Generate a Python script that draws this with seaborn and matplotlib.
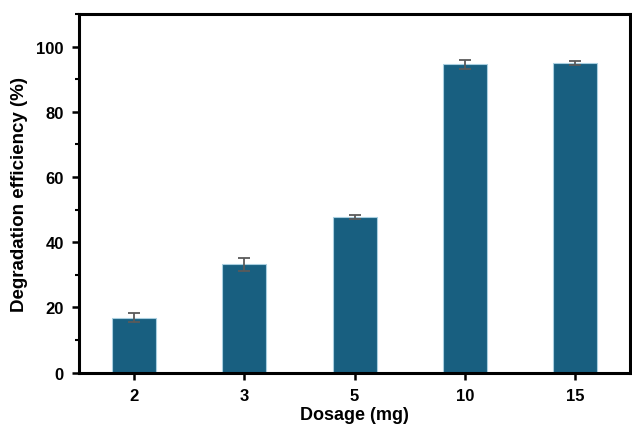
import matplotlib
matplotlib.use("Agg")
import matplotlib.pyplot as plt
import seaborn as sns
import pandas as pd
import numpy as np
from matplotlib.ticker import MultipleLocator

dosage = ["2", "3", "5", "10", "15"]
efficiency = [16.9, 33.3, 47.7, 94.5, 95.0]
errors = [1.5, 2.0, 0.7, 1.5, 0.7]

df = pd.DataFrame({"Dosage": dosage, "Efficiency": efficiency})

sns.set_style("white")
plt.rcParams['font.family'] = ['Liberation Sans', 'DejaVu Sans']
plt.rcParams['font.weight'] = 'bold'
plt.rcParams['text.color'] = 'black'
plt.rcParams['axes.labelcolor'] = 'black'
plt.rcParams['xtick.color'] = 'black'
plt.rcParams['ytick.color'] = 'black'

fig, ax = plt.subplots(figsize=(6.32, 4.27), dpi=100)
fig.subplots_adjust(left=0.125, right=0.997, top=0.965, bottom=0.125)

sns.barplot(data=df, x="Dosage", y="Efficiency", color="#185f80", saturation=1,
            width=0.4, edgecolor="#a9cfe0", linewidth=0.8, errorbar=None, ax=ax)
ax.errorbar(np.arange(len(dosage)), efficiency, yerr=errors, fmt="none",
            ecolor="#5a5a5a", elinewidth=1.3, capsize=4, capthick=1.3)

ax.set_xlim(-0.5, 4.5)
ax.set_ylim(0, 110)
ax.yaxis.set_major_locator(MultipleLocator(20))
ax.yaxis.set_minor_locator(MultipleLocator(10))
ax.set_yticks([0, 20, 40, 60, 80, 100])
for s in ax.spines.values():
    s.set_linewidth(2.2)
    s.set_color("black")
ax.tick_params(axis="both", which="major", direction="out", length=5, width=1.8,
               labelsize=12, left=True, bottom=True, pad=6, colors="black")
ax.tick_params(axis="y", which="minor", direction="out", length=3, width=1.5, left=True,
               colors="black")
for lbl in ax.get_xticklabels() + ax.get_yticklabels():
    lbl.set_fontweight("bold")
    lbl.set_color("black")
ax.set_xlabel("Dosage (mg)", fontsize=13, fontweight="bold", labelpad=2, color="black")
ax.set_ylabel("Degradation efficiency (%)", fontsize=13.5, fontweight="bold", labelpad=6,
              color="black")

fig.savefig("out.png", dpi=100)
